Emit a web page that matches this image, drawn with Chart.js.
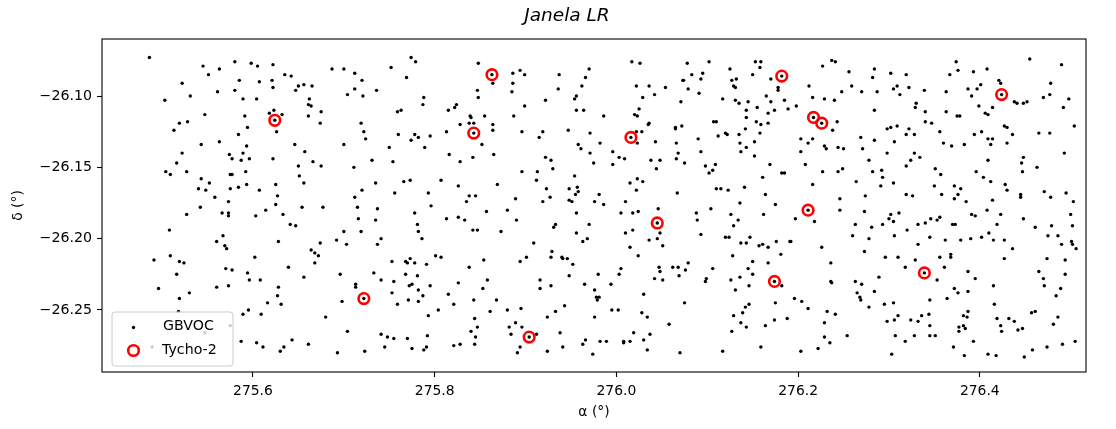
<!DOCTYPE html>
<html>
<head>
<meta charset="utf-8">
<title>Janela LR</title>
<script src="https://cdn.jsdelivr.net/npm/chart.js@4.4.1/dist/chart.umd.min.js"></script>
<style>
    html, body { margin: 0; padding: 0; background: #ffffff; }
    #wrap { width: 1116px; height: 429px; }
</style>
</head>
<body>
<div id="wrap"><canvas id="chartStars" width="1116" height="429"></canvas></div>
<script>
// GBVOC sources, [alpha, delta] in degrees
var gbvocPoints = [
    [275.486,-26.073],[275.545,-26.079],[275.580,-26.076],[275.598,-26.077],[275.605,-26.079],[275.622,-26.078],[275.563,-26.081],[275.551,-26.085],[275.635,-26.085],[275.642,-26.086],
    [275.687,-26.081],[275.700,-26.081],[275.522,-26.091],[275.585,-26.089],[275.607,-26.090],[275.621,-26.089],[275.622,-26.094],[275.650,-26.093],[275.656,-26.092],[275.665,-26.093],
    [275.647,-26.096],[275.561,-26.097],[275.580,-26.096],[275.531,-26.100],[275.503,-26.103],[275.589,-26.102],[275.604,-26.102],[275.662,-26.102],[275.661,-26.106],[275.664,-26.107],
    [275.675,-26.111],[275.623,-26.110],[275.618,-26.112],[275.632,-26.113],[275.624,-26.117],[275.547,-26.113],[275.591,-26.114],[275.661,-26.114],[275.528,-26.118],[275.519,-26.119],
    [275.674,-26.119],[275.594,-26.122],[275.513,-26.124],[275.626,-26.125],[275.584,-26.127],[275.543,-26.134],[275.563,-26.132],[275.593,-26.135],[275.646,-26.134],[275.700,-26.134],
    [275.522,-26.140],[275.574,-26.141],[275.589,-26.140],[275.657,-26.139],[275.577,-26.144],[275.596,-26.144],[275.587,-26.145],[275.622,-26.144],[275.516,-26.147],[275.666,-26.146],
    [275.650,-26.149],[275.675,-26.149],[275.504,-26.153],[275.509,-26.155],[275.527,-26.153],[275.575,-26.155],[275.577,-26.155],[275.592,-26.153],[275.651,-26.156],[275.543,-26.158],
    [275.552,-26.161],[275.625,-26.162],[275.656,-26.161],[275.593,-26.162],[275.540,-26.165],[275.548,-26.166],[275.575,-26.165],[275.584,-26.164],[275.607,-26.166],[275.627,-26.170],
    [275.558,-26.171],[275.573,-26.174],

    [275.542,-26.178],[275.625,-26.176],[275.654,-26.178],[275.677,-26.178],[275.527,-26.183],[275.566,-26.182],[275.573,-26.182],[275.573,-26.184],[275.603,-26.184],[275.614,-26.180],
    [275.633,-26.183],[275.508,-26.194],[275.641,-26.190],[275.647,-26.191],[275.700,-26.195],[275.567,-26.198],[275.560,-26.202],[275.628,-26.202],[275.674,-26.203],[275.692,-26.201],
    [275.569,-26.205],[275.571,-26.207],[275.664,-26.208],[275.668,-26.210],[275.672,-26.212],[275.491,-26.215],[275.509,-26.212],[275.519,-26.216],[275.524,-26.217],[275.602,-26.213],
    [275.668,-26.217],[275.639,-26.220],[275.570,-26.221],[275.577,-26.222],[275.516,-26.225],[275.594,-26.224],[275.696,-26.225],[275.656,-26.227],[275.596,-26.229],[275.608,-26.229],
    [275.496,-26.235],[275.560,-26.234],[275.573,-26.233],[275.628,-26.234],[275.530,-26.238],[275.627,-26.240],[275.519,-26.242],[275.616,-26.245],[275.631,-26.246],[275.698,-26.244],
    [275.518,-26.251],[275.595,-26.250],[275.589,-26.253],[275.609,-26.253],[275.680,-26.255],[275.575,-26.261],[275.547,-26.266],[275.489,-26.276],[275.587,-26.272],[275.604,-26.273],
    [275.611,-26.276],[275.643,-26.271],[275.661,-26.274],[275.630,-26.279],[275.634,-26.276],[275.693,-26.280],

    [275.774,-26.073],[275.779,-26.076],[275.752,-26.080],[275.848,-26.077],[275.863,-26.085],[275.712,-26.084],[275.720,-26.089],[275.769,-26.087],[275.864,-26.091],[275.886,-26.084],
    [275.894,-26.082],[275.899,-26.085],[275.937,-26.085],[275.970,-26.081],[275.966,-26.087],[275.712,-26.095],[275.704,-26.099],[275.721,-26.100],[275.736,-26.096],[275.847,-26.096],
    [275.848,-26.101],[275.886,-26.091],[275.885,-26.097],[275.936,-26.095],[275.962,-26.093],[275.954,-26.102],[275.956,-26.100],[275.788,-26.101],[275.787,-26.106],[275.824,-26.106],
    [275.822,-26.108],[275.815,-26.110],[275.759,-26.111],[275.763,-26.110],[275.839,-26.114],[275.840,-26.115],[275.855,-26.114],[275.843,-26.119],[275.828,-26.120],[275.838,-26.119],
    [275.864,-26.120],[275.864,-26.124],[275.843,-26.126],[275.719,-26.119],[275.722,-26.125],[275.724,-26.130],[275.760,-26.127],[275.778,-26.127],[275.782,-26.129],[275.774,-26.131],
    [275.795,-26.128],[275.813,-26.125],[275.852,-26.134],[275.887,-26.114],[275.899,-26.107],[275.922,-26.103],[275.956,-26.110],[275.964,-26.110],[275.896,-26.125],[275.919,-26.125],
    [275.915,-26.129],[275.947,-26.124],[275.971,-26.126],[275.750,-26.136],[275.789,-26.136],[275.958,-26.134],[275.961,-26.137],[275.971,-26.140],[275.816,-26.141],[275.828,-26.146],
    [275.842,-26.143],[275.865,-26.141],[275.731,-26.145],[275.754,-26.146],[275.711,-26.150],[275.922,-26.143],[275.928,-26.145],[275.930,-26.151],[275.896,-26.153],[275.913,-26.153],
    [275.954,-26.156],[275.735,-26.161],[275.766,-26.160],[275.773,-26.159],[275.807,-26.159],[275.826,-26.163],[275.869,-26.162],[275.912,-26.159],[275.720,-26.166],[275.756,-26.168],
    [275.793,-26.168],[275.838,-26.170],[275.845,-26.170],[275.835,-26.174],[275.712,-26.171],[275.889,-26.172],[275.923,-26.165],[275.927,-26.171],[275.919,-26.174],[275.948,-26.165],
    [275.957,-26.164],[275.955,-26.169],[275.958,-26.167],[275.948,-26.173],[275.951,-26.174],

    [275.715,-26.178],[275.737,-26.179],[275.796,-26.177],[275.716,-26.186],[275.735,-26.187],[275.719,-26.195],[275.703,-26.204],[275.778,-26.182],[275.781,-26.190],[275.782,-26.195],
    [275.786,-26.200],[275.813,-26.186],[275.826,-26.185],[275.833,-26.187],[275.842,-26.194],[275.847,-26.194],[275.857,-26.181],[275.880,-26.180],[275.890,-26.187],[275.873,-26.195],
    [275.933,-26.190],[275.931,-26.192],[275.956,-26.182],[275.970,-26.190],[275.956,-26.196],[275.968,-26.200],[275.963,-26.202],[275.741,-26.200],[275.737,-26.204],[275.909,-26.203],
    [275.929,-26.209],[275.928,-26.213],[275.940,-26.213],[275.941,-26.214],[275.946,-26.214],[275.952,-26.218],[275.901,-26.213],[275.894,-26.216],[275.854,-26.215],[275.838,-26.220],
    [275.801,-26.212],[275.807,-26.213],[275.753,-26.216],[275.768,-26.216],[275.770,-26.217],[275.773,-26.214],[275.778,-26.217],[275.791,-26.218],[275.768,-26.225],[275.781,-26.226],
    [275.733,-26.224],[275.741,-26.229],[275.755,-26.230],[275.772,-26.233],[275.775,-26.232],[275.795,-26.233],[275.782,-26.236],[275.753,-26.238],[275.787,-26.240],[275.771,-26.243],
    [275.782,-26.244],[275.759,-26.246],[275.713,-26.232],[275.713,-26.234],[275.722,-26.242],[275.826,-26.231],[275.858,-26.229],[275.853,-26.235],[275.815,-26.239],[275.821,-26.246],
    [275.843,-26.243],[275.868,-26.243],[275.804,-26.250],[275.793,-26.254],[275.861,-26.251],[275.880,-26.250],[275.895,-26.249],[275.916,-26.229],[275.916,-26.235],[275.928,-26.233],
    [275.948,-26.226],[275.965,-26.232],[275.943,-26.247],[275.933,-26.251],[275.924,-26.255],[275.844,-26.256],[275.847,-26.262],[275.840,-26.265],[275.845,-26.269],[275.844,-26.274],
    [275.828,-26.274],[275.821,-26.275],[275.889,-26.259],[275.882,-26.262],[275.884,-26.267],[275.896,-26.262],[275.904,-26.269],[275.912,-26.267],[275.894,-26.276],[275.891,-26.280],
    [275.938,-26.266],[275.941,-26.276],[275.924,-26.279],[275.966,-26.271],[275.963,-26.274],[275.704,-26.265],[275.741,-26.267],[275.748,-26.269],[275.755,-26.270],[275.770,-26.270],
    [275.792,-26.268],[275.745,-26.276],[275.775,-26.277],[275.788,-26.278],[275.791,-26.276],[275.723,-26.279],

    [276.017,-26.076],[276.026,-26.077],[276.078,-26.077],[276.102,-26.076],[276.125,-26.081],[276.153,-26.076],[276.159,-26.076],[276.158,-26.080],[276.150,-26.085],[276.182,-26.086],
    [276.170,-26.088],[276.178,-26.094],[276.178,-26.096],[276.227,-26.079],[276.237,-26.075],[276.241,-26.076],[276.083,-26.085],[276.095,-26.084],[276.093,-26.088],[276.073,-26.089],
    [276.074,-26.089],[276.127,-26.089],[276.132,-26.088],[276.129,-26.093],[276.131,-26.094],[276.022,-26.093],[276.036,-26.093],[276.054,-26.094],[276.079,-26.095],[276.091,-26.098],
    [276.029,-26.101],[276.042,-26.099],[276.071,-26.104],[276.117,-26.102],[276.131,-26.103],[276.135,-26.105],[276.145,-26.104],[276.165,-26.100],[276.170,-26.104],[276.185,-26.103],
    [276.189,-26.109],[276.198,-26.107],[276.212,-26.093],[276.216,-26.101],[276.229,-26.102],[276.240,-26.103],[276.155,-26.108],[276.143,-26.110],[276.143,-26.115],[276.167,-26.112],
    [276.174,-26.110],[275.986,-26.114],[276.025,-26.109],[276.020,-26.113],[276.023,-26.114],[276.016,-26.129],[276.217,-26.115],[276.226,-26.119],[276.243,-26.118],[276.238,-26.124],
    [276.035,-26.120],[276.036,-26.119],[276.028,-26.125],[276.022,-26.125],[276.023,-26.133],[275.982,-26.133],[276.065,-26.123],[276.065,-26.122],[276.072,-26.121],[276.107,-26.118],
    [276.110,-26.118],[276.154,-26.118],[276.159,-26.120],[276.167,-26.119],[276.142,-26.123],[276.135,-26.127],[276.120,-26.126],[276.122,-26.127],[276.112,-26.128],[276.158,-26.126],
    [276.090,-26.130],[276.043,-26.132],[276.066,-26.133],[276.136,-26.133],[276.152,-26.132],[276.143,-26.136],[276.137,-26.139],[276.152,-26.142],[276.093,-26.139],[276.068,-26.140],
    [276.066,-26.144],[276.075,-26.147],[276.203,-26.130],[276.211,-26.133],[276.216,-26.130],[276.203,-26.139],[276.229,-26.135],[276.231,-26.137],[276.244,-26.136],[275.996,-26.139],
    [276.003,-26.143],[276.009,-26.144],[275.996,-26.148],[275.975,-26.147],[276.038,-26.145],[276.048,-26.145],[276.044,-26.151],[276.098,-26.149],[276.109,-26.148],[276.106,-26.152],
    [276.102,-26.154],[276.169,-26.148],[276.208,-26.148],[276.182,-26.154],[276.185,-26.154],[276.161,-26.157],[276.227,-26.153],[276.244,-26.153],[276.015,-26.161],[276.023,-26.158],
    [276.029,-26.160],[276.022,-26.166],[276.110,-26.165],[276.115,-26.165],[276.123,-26.166],[276.141,-26.164],[276.216,-26.162],[275.981,-26.169],[275.976,-26.174],[276.010,-26.174],
    [276.067,-26.168],[276.136,-26.175],[276.164,-26.169],

    [275.986,-26.176],[276.005,-26.182],[276.018,-26.182],[276.024,-26.181],[276.046,-26.179],[276.045,-26.189],[276.048,-26.196],[276.045,-26.200],[276.036,-26.201],[276.051,-26.205],
    [276.010,-26.196],[276.018,-26.194],[276.015,-26.206],[276.024,-26.212],[276.088,-26.182],[276.089,-26.187],[276.104,-26.179],[276.093,-26.197],[276.175,-26.176],[276.126,-26.183],
    [276.134,-26.187],[276.129,-26.191],[276.162,-26.183],[276.211,-26.180],[276.197,-26.186],[276.218,-26.188],[276.120,-26.199],[276.124,-26.199],[276.147,-26.199],[276.137,-26.203],
    [276.143,-26.203],[276.157,-26.205],[276.161,-26.204],[276.167,-26.206],[276.176,-26.202],[276.191,-26.202],[276.192,-26.202],[276.226,-26.206],[276.128,-26.212],[276.181,-26.211],
    [276.150,-26.216],[276.167,-26.217],[276.236,-26.217],[275.980,-26.225],[276.003,-26.225],[276.005,-26.221],[276.047,-26.220],[276.048,-26.223],[276.042,-26.228],[276.051,-26.229],
    [276.062,-26.220],[276.068,-26.220],[276.079,-26.217],[276.076,-26.222],[276.069,-26.226],[276.106,-26.221],[276.099,-26.228],[276.098,-26.230],[276.145,-26.221],[276.150,-26.225],
    [276.136,-26.227],[276.126,-26.229],[276.131,-26.236],[276.146,-26.233],[276.174,-26.230],[276.182,-26.233],[275.994,-26.232],[275.976,-26.236],[275.978,-26.241],[275.979,-26.243],
    [275.981,-26.241],[276.030,-26.239],[276.075,-26.245],[276.175,-26.245],[276.196,-26.242],[276.204,-26.244],[276.211,-26.249],[276.236,-26.230],[276.237,-26.231],[276.232,-26.251],
    [276.241,-26.253],[275.976,-26.255],[275.995,-26.250],[276.002,-26.250],[276.028,-26.252],[276.034,-26.255],[276.058,-26.260],[276.142,-26.248],[276.146,-26.246],[276.139,-26.252],
    [276.129,-26.254],[276.137,-26.259],[276.143,-26.262],[276.127,-26.265],[276.164,-26.261],[276.174,-26.257],[276.188,-26.256],[276.229,-26.259],[276.229,-26.269],[276.235,-26.273],
    [276.222,-26.277],[276.203,-26.279],[276.159,-26.276],[276.117,-26.279],[276.070,-26.280],[276.034,-26.278],[275.974,-26.281],[275.982,-26.272],[275.989,-26.272],[276.008,-26.272],
    [276.008,-26.273],[276.015,-26.272],[276.019,-26.266],[276.030,-26.271],[276.037,-26.267],

    [276.374,-26.076],[276.376,-26.082],[276.367,-26.085],[276.393,-26.083],[276.408,-26.081],[276.455,-26.074],[276.490,-26.078],[276.256,-26.083],[276.284,-26.081],[276.282,-26.087],
    [276.302,-26.084],[276.319,-26.085],[276.259,-26.093],[276.248,-26.097],[276.270,-26.097],[276.287,-26.097],[276.305,-26.095],[276.309,-26.093],[276.312,-26.099],[276.322,-26.094],
    [276.339,-26.096],[276.363,-26.097],[276.387,-26.095],[276.397,-26.095],[276.401,-26.092],[276.391,-26.100],[276.421,-26.089],[276.423,-26.091],[276.424,-26.099],[276.438,-26.104],
    [276.441,-26.105],[276.448,-26.105],[276.452,-26.104],[276.470,-26.101],[276.477,-26.099],[276.478,-26.091],[276.498,-26.102],[276.492,-26.108],[276.504,-26.121],[276.399,-26.107],
    [276.414,-26.108],[276.406,-26.112],[276.409,-26.113],[276.375,-26.114],[276.378,-26.114],[276.363,-26.111],[276.340,-26.111],[276.330,-26.105],[276.329,-26.108],[276.284,-26.110],
    [276.340,-26.118],[276.347,-26.119],[276.298,-26.123],[276.302,-26.122],[276.309,-26.121],[276.322,-26.123],[276.319,-26.127],[276.328,-26.127],[276.356,-26.125],[276.394,-26.127],
    [276.402,-26.125],[276.427,-26.121],[276.430,-26.122],[276.436,-26.127],[276.409,-26.130],[276.414,-26.130],[276.412,-26.134],[276.430,-26.133],[276.465,-26.126],[276.477,-26.126],
    [276.269,-26.129],[276.284,-26.131],[276.306,-26.132],[276.360,-26.133],[276.369,-26.135],[276.383,-26.134],[276.250,-26.137],[276.271,-26.137],[276.298,-26.140],[276.328,-26.140],
    [276.334,-26.143],[276.278,-26.145],[276.324,-26.145],[276.319,-26.149],[276.282,-26.153],[276.292,-26.152],[276.293,-26.157],[276.249,-26.151],[276.264,-26.160],[276.291,-26.163],
    [276.305,-26.161],[276.351,-26.151],[276.357,-26.155],[276.350,-26.163],[276.358,-26.169],[276.372,-26.163],[276.379,-26.165],[276.376,-26.169],[276.372,-26.172],[276.385,-26.174],
    [276.409,-26.145],[276.396,-26.153],[276.404,-26.157],[276.412,-26.160],[276.428,-26.162],[276.430,-26.166],[276.414,-26.173],[276.448,-26.143],[276.446,-26.147],[276.447,-26.153],
    [276.463,-26.150],[276.493,-26.140],[276.445,-26.169],[276.445,-26.171],[276.471,-26.167],[276.478,-26.171],[276.495,-26.168],[276.503,-26.174],[276.274,-26.170],[276.319,-26.169],
    [276.326,-26.170],[276.246,-26.172],

    [276.246,-26.180],[276.273,-26.181],[276.263,-26.190],[276.281,-26.192],[276.260,-26.198],[276.278,-26.200],[276.273,-26.209],[276.293,-26.190],[276.300,-26.186],[276.302,-26.183],
    [276.305,-26.188],[276.311,-26.182],[276.306,-26.198],[276.320,-26.194],[276.332,-26.190],[276.340,-26.189],[276.346,-26.186],[276.353,-26.187],[276.356,-26.185],[276.345,-26.199],
    [276.332,-26.204],[276.296,-26.213],[276.310,-26.213],[276.329,-26.215],[276.318,-26.220],[276.339,-26.224],[276.353,-26.229],[276.361,-26.220],[276.356,-26.213],[276.362,-26.201],
    [276.370,-26.190],[276.373,-26.190],[276.379,-26.201],[276.368,-26.211],[276.368,-26.213],[276.390,-26.200],[276.391,-26.183],[276.395,-26.184],[276.408,-26.180],[276.423,-26.183],
    [276.419,-26.190],[276.402,-26.199],[276.410,-26.196],[276.415,-26.201],[276.427,-26.201],[276.436,-26.207],[276.427,-26.214],[276.448,-26.186],[276.461,-26.192],[276.479,-26.191],
    [276.475,-26.198],[276.486,-26.198],[276.500,-26.183],[276.502,-26.191],[276.490,-26.204],[276.501,-26.202],[276.502,-26.204],[276.506,-26.207],[276.474,-26.214],[276.494,-26.215],
    [276.494,-26.225],[276.465,-26.223],[276.470,-26.228],[276.471,-26.233],[276.489,-26.235],[276.484,-26.240],[276.263,-26.230],[276.270,-26.232],[276.265,-26.238],[276.268,-26.241],
    [276.269,-26.243],[276.284,-26.237],[276.289,-26.227],[276.278,-26.248],[276.295,-26.246],[276.305,-26.245],[276.387,-26.223],[276.395,-26.228],[276.372,-26.235],[276.376,-26.238],
    [276.387,-26.237],[276.415,-26.233],[276.345,-26.243],[276.364,-26.242],[276.416,-26.246],[276.298,-26.258],[276.306,-26.257],[276.310,-26.254],[276.324,-26.257],[276.332,-26.258],
    [276.336,-26.254],[276.344,-26.253],[276.345,-26.261],[276.382,-26.254],[276.386,-26.255],[276.387,-26.251],[276.377,-26.262],[276.382,-26.261],[276.384,-26.263],[276.377,-26.265],
    [276.419,-26.256],[276.432,-26.256],[276.438,-26.258],[276.423,-26.261],[276.424,-26.265],[276.442,-26.264],[276.447,-26.263],[276.457,-26.252],[276.461,-26.251],[276.486,-26.255],
    [276.481,-26.260],[276.254,-26.268],[276.307,-26.268],[276.318,-26.272],[276.328,-26.268],[276.345,-26.268],[276.351,-26.268],[276.371,-26.276],[276.393,-26.272],[276.383,-26.282],
    [276.303,-26.281],[276.409,-26.281],[276.418,-26.282],[276.449,-26.283],[276.458,-26.278],[276.474,-26.276],[276.491,-26.274],[276.505,-26.272]
];

// Tycho-2 stars
var tychoRa  = [275.624, 275.863, 275.843, 276.016, 276.182, 276.217, 276.226, 276.424, 276.045, 276.211, 276.339, 275.722, 275.904, 276.174];
var tychoDec = [-26.117, -26.085, -26.126, -26.129, -26.086, -26.115, -26.119, -26.099, -26.189, -26.180, -26.224, -26.242, -26.269, -26.230];

var raTicks = [275.6, 275.8, 276.0, 276.2, 276.4];
var decTicks = [-26.25, -26.20, -26.15, -26.10];
var raLimits = [275.4338, 276.5169];
var decLimits = [-26.2935, -26.0600];

var FONT = "'DejaVu Sans', 'Liberation Sans', sans-serif";

document.addEventListener("DOMContentLoaded", function () {

    Chart.defaults.font.family = FONT;
    Chart.defaults.font.size = 13.9;
    Chart.defaults.color = '#000000';

    // full axes box, like the matplotlib spines
    var framePlugin = {
        id: 'frame',
        afterDatasetsDraw: function (chart) {
            var a = chart.chartArea;
            var ctx = chart.ctx;
            ctx.save();
            ctx.strokeStyle = '#000000';
            ctx.lineWidth = 1.1;
            ctx.strokeRect(a.left, a.top, a.right - a.left, a.bottom - a.top);
            ctx.restore();
        }
    };

    // title and the boxed legend in the lower left corner
    var titleLegendPlugin = {
        id: 'titleLegend',
        afterDraw: function (chart) {
            var ctx = chart.ctx;
            ctx.save();

            ctx.fillStyle = '#000000';
            ctx.font = 'italic 18.5px ' + FONT;
            ctx.textAlign = 'center';
            ctx.textBaseline = 'middle';
            ctx.fillText('Janela LR', 567, 16);

            var bx = 112, by = 312, bw = 121, bh = 54, r = 3;
            ctx.beginPath();
            ctx.moveTo(bx + r, by);
            ctx.arcTo(bx + bw, by, bx + bw, by + bh, r);
            ctx.arcTo(bx + bw, by + bh, bx, by + bh, r);
            ctx.arcTo(bx, by + bh, bx, by, r);
            ctx.arcTo(bx, by, bx + bw, by, r);
            ctx.closePath();
            ctx.fillStyle = 'rgba(255,255,255,0.8)';
            ctx.fill();
            ctx.strokeStyle = '#cccccc';
            ctx.lineWidth = 1;
            ctx.stroke();

            ctx.fillStyle = '#000000';
            ctx.beginPath();
            ctx.arc(133.5, 327.5, 1.7, 0, Math.PI * 2);
            ctx.fill();

            ctx.strokeStyle = '#ff0000';
            ctx.lineWidth = 2.6;
            ctx.beginPath();
            ctx.arc(133.5, 350.5, 5.3, 0, Math.PI * 2);
            ctx.stroke();

            ctx.fillStyle = '#000000';
            ctx.font = '14.2px ' + FONT;
            ctx.textAlign = 'left';
            ctx.textBaseline = 'middle';
            ctx.fillText('GBVOC', 163, 326.5);
            ctx.fillText('Tycho-2', 162, 350);
            ctx.restore();
        }
    };

    var gbvocData = gbvocPoints.map(function (p) { return { x: p[0], y: p[1] }; });
    var tychoData = tychoRa.map(function (ra, i) { return { x: ra, y: tychoDec[i] }; });

    new Chart(document.getElementById('chartStars'), {
        type: 'scatter',
        data: {
            datasets: [{
                label: 'GBVOC',
                data: gbvocData,
                pointRadius: 1.7,
                pointBorderWidth: 0,
                pointBackgroundColor: '#000000',
                pointBorderColor: '#000000',
                order: 2
            }, {
                label: 'Tycho-2',
                data: tychoData,
                pointRadius: 5.3,
                pointBorderWidth: 2.6,
                pointBorderColor: '#ff0000',
                pointBackgroundColor: 'rgba(0,0,0,0)',
                order: 1
            }]
        },
        options: {
            responsive: false,
            animation: false,
            events: [],
            layout: { padding: { left: 0, right: 30, top: 39, bottom: 0 } },
            plugins: {
                legend: { display: false },
                tooltip: { enabled: false }
            },
            scales: {
                x: {
                    type: 'linear',
                    min: raLimits[0],
                    max: raLimits[1],
                    afterBuildTicks: function (scale) {
                        scale.ticks = raTicks.map(function (v) { return { value: v }; });
                    },
                    afterFit: function (scale) { scale.height = 57; },
                    grid: { drawOnChartArea: false, drawTicks: true, tickLength: 5, tickWidth: 1.1, tickColor: '#000000' },
                    border: { display: false },
                    ticks: {
                        padding: 6,
                        maxRotation: 0,
                        autoSkip: false,
                        callback: function (v) { return Number(v).toFixed(1); }
                    },
                    title: { display: true, text: 'α (°)', padding: { top: 0, bottom: 8 } }
                },
                y: {
                    type: 'linear',
                    min: decLimits[0],
                    max: decLimits[1],
                    afterBuildTicks: function (scale) {
                        scale.ticks = decTicks.map(function (v) { return { value: v }; });
                    },
                    afterFit: function (scale) { scale.width = 102; },
                    grid: { drawOnChartArea: false, drawTicks: true, tickLength: 5, tickWidth: 1.1, tickColor: '#000000' },
                    border: { display: false },
                    ticks: {
                        padding: 5,
                        autoSkip: false,
                        font: { size: 14.2 },
                        callback: function (v) {
                            var n = Number(v);
                            return (n < 0 ? '\u2212' : '') + Math.abs(n).toFixed(2);
                        }
                    },
                    title: { display: true, text: 'δ (°)', padding: { top: 10, bottom: 0 } }
                }
            }
        },
        plugins: [framePlugin, titleLegendPlugin]
    });
});
</script>
</body>
</html>
